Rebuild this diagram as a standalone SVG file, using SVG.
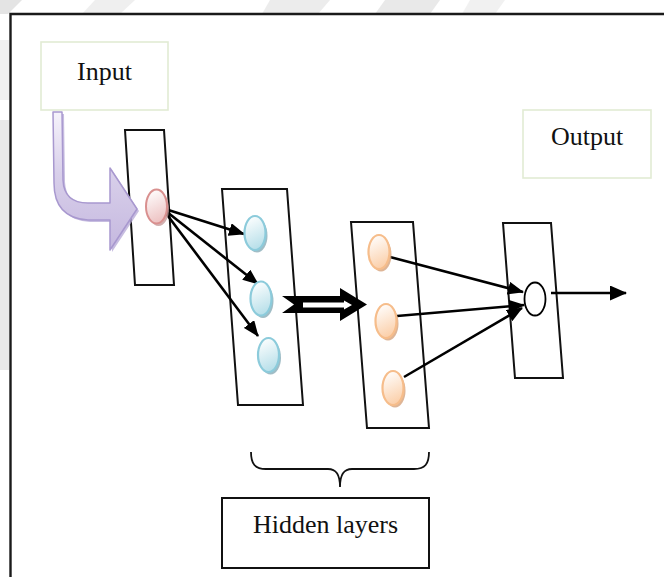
<svg xmlns="http://www.w3.org/2000/svg" width="664" height="577" viewBox="0 0 664 577">
  <style>
    .label { font-family: "Liberation Serif", "Times New Roman", serif; font-size: 26px; fill: #111; text-anchor: middle; }
    .tagbox { fill: #fff; stroke: #e2ebd4; stroke-width: 1.6; }
    .layer { fill: #fff; stroke: #111; stroke-width: 2; stroke-linejoin: miter; }
    .edge { fill: none; stroke: #000; stroke-width: 2.6; }
    .frame { fill: none; stroke: #1a1a1a; stroke-width: 2.4; }
    .wm { fill: #e4e4e4; }
  </style>
  <defs>
    <marker id="head" viewBox="0 0 16 13" refX="15" refY="6.5" markerWidth="16" markerHeight="13" markerUnits="userSpaceOnUse" orient="auto">
      <path d="M0,0 L16,6.5 L0,13 Z" fill="#000"/>
    </marker>
    <marker id="headOut" viewBox="0 0 17 15" refX="16" refY="7.5" markerWidth="17" markerHeight="15" markerUnits="userSpaceOnUse" orient="auto">
      <path d="M0,0 L17,7.5 L0,15 Z" fill="#000"/>
    </marker>
    <linearGradient id="gBlue" x1="0.2" y1="0" x2="0.5" y2="1">
      <stop offset="0" stop-color="#ffffff"/>
      <stop offset="1" stop-color="#b7dfe9"/>
    </linearGradient>
    <linearGradient id="gOrange" x1="0.2" y1="0" x2="0.5" y2="1">
      <stop offset="0" stop-color="#ffffff"/>
      <stop offset="1" stop-color="#fbcfa9"/>
    </linearGradient>
    <linearGradient id="gRed" x1="0.2" y1="0" x2="0.5" y2="1">
      <stop offset="0" stop-color="#ffffff"/>
      <stop offset="1" stop-color="#edc2c2"/>
    </linearGradient>
    <linearGradient id="gPurple" gradientUnits="userSpaceOnUse" x1="0" y1="112" x2="0" y2="250">
      <stop offset="0" stop-color="#f6f3fb"/>
      <stop offset="0.45" stop-color="#d8cfea"/>
      <stop offset="1" stop-color="#c5b8df"/>
    </linearGradient>
  </defs>

  <rect width="664" height="577" fill="#fff"/>

  <!-- faint background marks in the margins outside the frame -->
  <g id="margin-marks">
    <polygon class="wm" points="0,0 22,0 8,14 0,14"/>
    <polygon class="wm" points="95,0 135,0 120,14 82,14" opacity="0.6"/>
    <polygon class="wm" points="270,0 330,0 318,14 262,14" opacity="0.7"/>
    <polygon class="wm" points="385,0 440,0 430,14 375,14" opacity="0.8"/>
    <polygon class="wm" points="470,0 505,0 495,14 462,14" opacity="0.5"/>
    <rect class="wm" x="0" y="120" width="9" height="250" opacity="0.8"/>
    <rect class="wm" x="0" y="40" width="9" height="60" opacity="0.5"/>
  </g>

  <!-- page frame -->
  <path class="frame" d="M10.5,577 L10.5,14 L664,14"/>

  <!-- layer columns -->
  <g id="input-layer">
    <polygon class="layer" points="125,130 164,130 174,285 135,285"/>
  </g>
  <g id="hidden-layer-1">
    <polygon class="layer" points="222,189 287,189 303,405 238,405"/>
  </g>
  <g id="hidden-layer-2">
    <polygon class="layer" points="351,222 413,222 429,428 367,428"/>
  </g>
  <g id="output-layer">
    <polygon class="layer" points="503,223 551,223 563,378 515,378"/>
  </g>

  <!-- labels -->
  <g id="input-label">
    <rect class="tagbox" x="41" y="42" width="127" height="68"/>
    <text class="label" x="104.5" y="79.5">Input</text>
  </g>
  <g id="output-label">
    <rect class="tagbox" x="523" y="110" width="128" height="68"/>
    <text class="label" x="587" y="145">Output</text>
  </g>

  <!-- curved feed arrow into the input neuron -->
  <g id="feed-arrow">
    <path d="M55,114 L64,114 L65,182 Q66,205 90,205 L112,205 L112,170 L139,211 L112,252 L112,222 L90,222 Q56,220 56,185 Z" fill="#b4a7d6" opacity="0.75"/>
    <path d="M53,112 L62,112 L63,180 Q64,203 88,203 L110,203 L110,168 L137,209 L110,250 L110,220 L88,220 Q54,218 54,183 Z" fill="url(#gPurple)" stroke="#a898cf" stroke-width="1.5" stroke-linejoin="round"/>
  </g>

  <!-- connectors -->
  <g id="connectors">
    <line class="edge" x1="162" y1="208" x2="244" y2="234" marker-end="url(#head)"/>
    <line class="edge" x1="162" y1="208" x2="258" y2="284" marker-end="url(#head)"/>
    <line class="edge" x1="162" y1="208" x2="258" y2="336" marker-end="url(#head)"/>
    <line class="edge" x1="390" y1="257" x2="523" y2="292" marker-end="url(#head)"/>
    <line class="edge" x1="397" y1="316" x2="524" y2="305" marker-end="url(#head)"/>
    <line class="edge" x1="404" y1="377" x2="522" y2="308" marker-end="url(#head)"/>
    <line class="edge" x1="551" y1="293" x2="626" y2="293" stroke-width="2.2" marker-end="url(#headOut)"/>
    <!-- hollow double arrow between hidden layers -->
    <g id="layer-transfer">
      <polygon points="282,296 340,296 340,288 367,304.5 340,321 340,313 282,313 294,304.5" fill="#000"/>
      <polygon points="303,302.5 344,302.5 344,300.5 352,305 344,309.5 344,307.5 303,307.5" fill="#fff"/>
    </g>
  </g>

  <!-- neurons -->
  <g id="input-neuron">
    <ellipse cx="158.5" cy="209" rx="10.5" ry="17" fill="#c79b9b" opacity="0.8"/>
    <ellipse cx="156.5" cy="206.5" rx="10.5" ry="17" fill="url(#gRed)" stroke="#d9908f" stroke-width="2"/>
  </g>
  <g id="hidden1-neuron-1">
    <ellipse cx="257" cy="235.5" rx="10.5" ry="17" fill="#8fb2bc" opacity="0.85"/>
    <ellipse cx="255" cy="233" rx="10.5" ry="17" fill="url(#gBlue)" stroke="#8ccbdb" stroke-width="2.2"/>
  </g>
  <g id="hidden1-neuron-2">
    <ellipse cx="263" cy="301" rx="10.5" ry="17" fill="#8fb2bc" opacity="0.85"/>
    <ellipse cx="261" cy="298.5" rx="10.5" ry="17" fill="url(#gBlue)" stroke="#8ccbdb" stroke-width="2.2"/>
  </g>
  <g id="hidden1-neuron-3">
    <ellipse cx="270.5" cy="357.5" rx="10.5" ry="17" fill="#8fb2bc" opacity="0.85"/>
    <ellipse cx="268.5" cy="355" rx="10.5" ry="17" fill="url(#gBlue)" stroke="#8ccbdb" stroke-width="2.2"/>
  </g>
  <g id="hidden2-neuron-1">
    <ellipse cx="381" cy="254.5" rx="10.5" ry="17" fill="#d8a884" opacity="0.85"/>
    <ellipse cx="379" cy="252" rx="10.5" ry="17" fill="url(#gOrange)" stroke="#f6bd8b" stroke-width="2.2"/>
  </g>
  <g id="hidden2-neuron-2">
    <ellipse cx="388" cy="323.5" rx="10.5" ry="17" fill="#d8a884" opacity="0.85"/>
    <ellipse cx="386" cy="321" rx="10.5" ry="17" fill="url(#gOrange)" stroke="#f6bd8b" stroke-width="2.2"/>
  </g>
  <g id="hidden2-neuron-3">
    <ellipse cx="395" cy="390.5" rx="10.5" ry="17" fill="#d8a884" opacity="0.85"/>
    <ellipse cx="393" cy="388" rx="10.5" ry="17" fill="url(#gOrange)" stroke="#f6bd8b" stroke-width="2.2"/>
  </g>
  <g id="output-neuron">
    <ellipse cx="535" cy="299" rx="10.5" ry="16.5" fill="#fff" stroke="#000" stroke-width="1.8"/>
  </g>

  <!-- brace grouping the hidden layers -->
  <g id="hidden-brace">
    <path d="M251,452 C251,464 255,469 266,469 L328,469 C336,469 340,474 340,487 C340,474 344,469 352,469 L414,469 C425,469 429,464 429,452" fill="none" stroke="#111" stroke-width="1.8"/>
  </g>
  <g id="hidden-label">
    <rect x="222" y="498" width="207" height="70" fill="#fff" stroke="#111" stroke-width="2"/>
    <text class="label" x="325.5" y="533">Hidden layers</text>
  </g>
</svg>
